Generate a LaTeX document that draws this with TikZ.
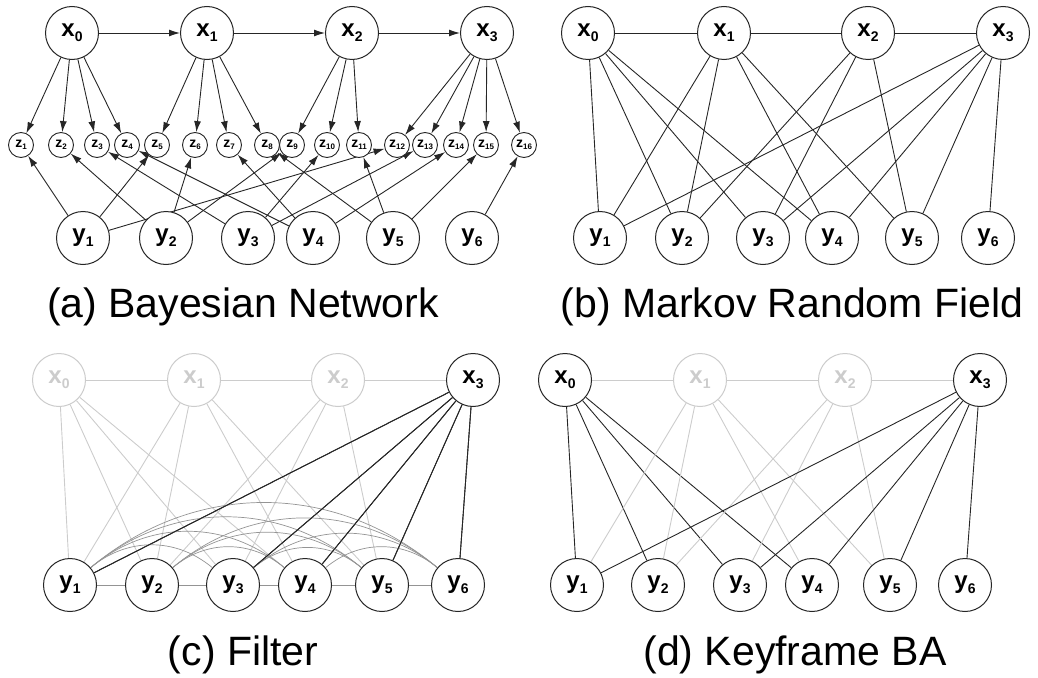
\documentclass[tikz,border=0pt]{standalone}
\usepackage{fontspec}
\setmainfont{Liberation Sans}
\usepackage{tikz}
\usetikzlibrary{arrows.meta, positioning, backgrounds}

\definecolor{lightgrey}{gray}{0.80}
\definecolor{midgrey}{gray}{0.58}
\definecolor{darkline}{gray}{0.15}

\newcommand{\vlab}[2]{\textbf{#1}\raisebox{-5pt}{\fontsize{14}{14}\selectfont\textbf{#2}}}
\newcommand{\zlab}[1]{\textbf{z}\raisebox{-2.5pt}{\fontsize{8}{8}\selectfont\textbf{#1}}}

\tikzset{
    var/.style={circle, draw=black!85, fill=white, line width=1pt, minimum size=53pt,
        inner sep=0pt, font=\fontsize{24}{24}\selectfont},
    fac/.style={circle, draw=black!85, fill=white, line width=0.9pt, minimum size=25pt,
        inner sep=0pt, font=\fontsize{14}{14}\selectfont},
    dim/.style={draw=lightgrey, text=lightgrey},
    link/.style={draw=darkline, line width=0.9pt},
    faint/.style={draw=lightgrey, line width=0.9pt},
    arc/.style={draw=midgrey, line width=0.7pt},
    arr/.style={link, -{Latex[length=11pt,width=7pt]}},
    caption/.style={anchor=base, font=\fontsize{41}{41}\selectfont}
}

% MRF factors: x index / y index
\def\mrf{0/1,0/2,0/3,0/4,1/1,1/2,1/4,1/5,2/2,2/3,2/5,3/1,3/3,3/4,3/5,3/6}

\begin{document}
\begin{tikzpicture}[x=1pt, y=-1pt]
    \useasboundingbox (0,0) rectangle (1038,677);

    % (a) Bayesian network
    \foreach \i/\px in {0/72,1/207,2/352,3/487}
        \node[var] (a-x\i) at (\px,33) {\vlab{x}{\i}};
    \foreach \i/\px in {1/83,2/166,3/248,4/313,5/393,6/472}
        \node[var] (a-y\i) at (\px,238) {\vlab{y}{\i}};
    \foreach \i/\px in {1/21,2/61,3/97,4/127,5/157,6/195,7/229,8/267,
                        9/292,10/327,11/359,12/397,13/425,14/456,15/486,16/524}
        \node[fac] (z\i) at (\px,145) {\zlab{\i}};
    \begin{scope}[on background layer]
        \foreach \s/\t in {0/1,1/2,2/3}
            \draw[arr] (a-x\s) -- (a-x\t);
        \foreach \s/\t in {0/1,0/2,0/3,0/4,1/5,1/6,1/7,1/8,
                           2/9,2/10,2/11,3/12,3/13,3/14,3/15,3/16}
            \draw[arr] (a-x\s) -- (z\t);
        \foreach \s/\t in {1/1,2/2,3/3,4/4,1/5,2/6,4/7,5/8,
                           2/9,3/10,5/11,1/12,3/13,4/14,5/15,6/16}
            \draw[arr] (a-y\s) -- (z\t);
    \end{scope}
    \node[caption] (cap-a) at (243,317) {(a) Bayesian Network};

    % (b) Markov random field
    \foreach \i/\px in {0/588,1/724,2/868,3/1003}
        \node[var] (b-x\i) at (\px,33) {\vlab{x}{\i}};
    \foreach \i/\px in {1/600,2/682,3/763,4/832,5/912,6/988}
        \node[var] (b-y\i) at (\px,238) {\vlab{y}{\i}};
    \begin{scope}[on background layer]
        \foreach \s/\t in {0/1,1/2,2/3}
            \draw[link] (b-x\s) -- (b-x\t);
        \foreach \s/\t in \mrf
            \draw[link] (b-x\s) -- (b-y\t);
    \end{scope}
    \node[caption] (cap-b) at (792,317) {(b) Markov Random Field};

    % (c) filter
    \foreach \i/\px in {0/59,1/194,2/338}
        \node[var, dim] (c-x\i) at (\px,380) {\vlab{x}{\i}};
    \node[var] (c-x3) at (473,380) {\vlab{x}{3}};
    \foreach \i/\px in {1/70,2/152,3/233,4/305,5/382,6/458}
        \node[var] (c-y\i) at (\px,585) {\vlab{y}{\i}};
    \begin{scope}[on background layer]
        \foreach \s/\t in {0/1,1/2,2/3}
            \draw[faint] (c-x\s) -- (c-x\t);
        \foreach \s/\t in \mrf {
            \ifnum\s=3 \def\look{link}\else\def\look{faint}\fi
            \draw[\look] (c-x\s) -- (c-y\t);
        }
        \foreach \s/\t in {1/2,2/3,3/4,4/5,5/6}
            \draw[arc] (c-y\s) -- (c-y\t);
        \foreach \s/\t in {1/3,1/4,1/5,1/6,2/4,2/5,2/6,3/5,3/6,4/6}
            \draw[arc] (c-y\s) to[bend left=40] (c-y\t);
        \foreach \t in {1,3,4,5,6}
            \draw[link] (c-x3) -- (c-y\t);
    \end{scope}
    \node[caption] (cap-c) at (243,665) {(c) Filter};

    % (d) keyframe BA
    \node[var] (d-x0) at (565,380) {\vlab{x}{0}};
    \foreach \i/\px in {1/700,2/845}
        \node[var, dim] (d-x\i) at (\px,380) {\vlab{x}{\i}};
    \node[var] (d-x3) at (980,380) {\vlab{x}{3}};
    \foreach \i/\px in {1/577,2/658,3/740,4/812,5/890,6/965}
        \node[var] (d-y\i) at (\px,585) {\vlab{y}{\i}};
    \begin{scope}[on background layer]
        \foreach \s/\t in {0/1,1/2,2/3}
            \draw[faint] (d-x\s) -- (d-x\t);
        \foreach \s/\t in \mrf {
            \ifnum\s=1 \def\look{faint}\else\ifnum\s=2 \def\look{faint}\else\def\look{link}\fi\fi
            \draw[\look] (d-x\s) -- (d-y\t);
        }
    \end{scope}
    \node[caption] (cap-d) at (795,665) {(d) Keyframe BA};
\end{tikzpicture}
\end{document}
